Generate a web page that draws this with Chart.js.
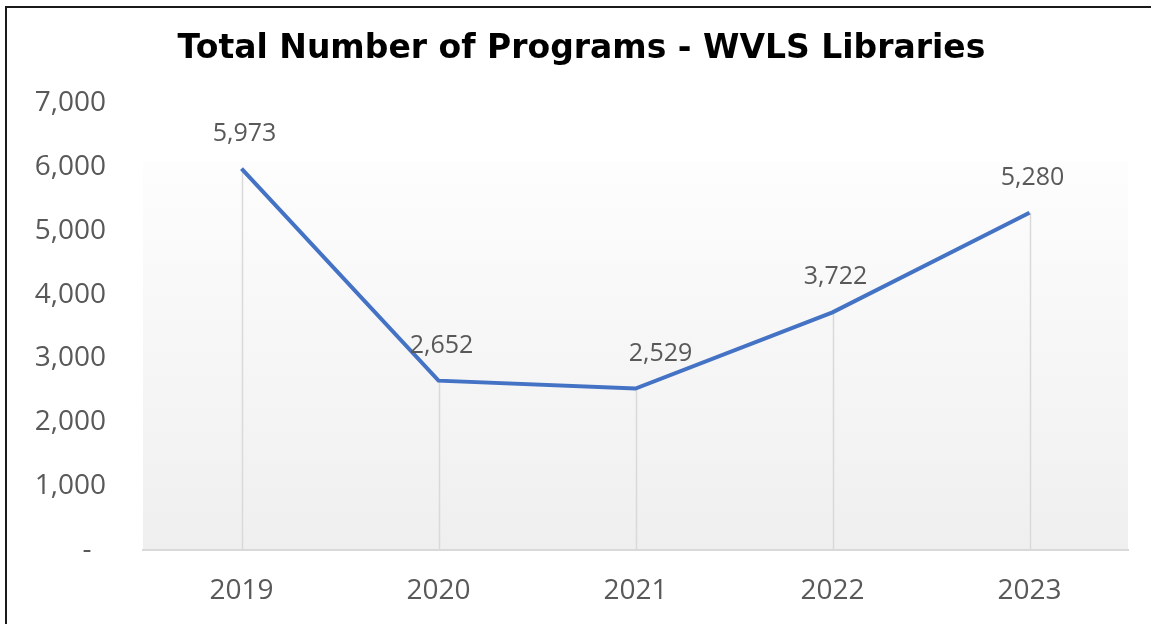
<!DOCTYPE html>
<html>
<head>
<meta charset="utf-8">
<script src="https://cdn.jsdelivr.net/npm/chart.js@4"></script>
<style>
html,body{margin:0;padding:0;background:#fff;}
#wrap{width:1151px;height:624px;position:relative;}
</style>
</head>
<body>
<div id="wrap"><canvas id="c" width="1151" height="624"></canvas></div>
<script>
const years = ['2019', '2020', '2021', '2022', '2023'];
const programs = [5973, 2652, 2529, 3722, 5280];
const yTicks = [0, 1000, 2000, 3000, 4000, 5000, 6000, 7000];
const chartTitle = 'Total Number of Programs - WVLS Libraries';

const fmt = v => v === 0 ? '-  ' : v.toLocaleString('en-US');

const decor = {
  id: 'decor',
  beforeDraw(chart) {
    const {ctx, chartArea: a} = chart;
    const top = a.top + (a.bottom - a.top) * 0.132;
    const g = ctx.createLinearGradient(0, top, 0, a.bottom);
    g.addColorStop(0, '#fdfdfd');
    g.addColorStop(1, '#efefef');
    ctx.save();
    ctx.fillStyle = g;
    ctx.fillRect(a.left, top, a.right - a.left, a.bottom - top);
    ctx.restore();
  },
  beforeDatasetsDraw(chart) {
    const {ctx, chartArea: a} = chart;
    const meta = chart.getDatasetMeta(0);
    ctx.save();
    ctx.strokeStyle = '#d9d9d9';
    ctx.lineWidth = 1.5;
    meta.data.forEach(p => {
      ctx.beginPath();
      ctx.moveTo(Math.round(p.x) + 0.5, p.y);
      ctx.lineTo(Math.round(p.x) + 0.5, a.bottom);
      ctx.stroke();
    });
    ctx.restore();
  },
  afterDatasetsDraw(chart, args, opts) {
    const {ctx} = chart;
    const meta = chart.getDatasetMeta(0);
    const data = chart.data.datasets[0].data;
    ctx.save();
    ctx.fillStyle = '#595959';
    ctx.font = '25px "Open Sans"';
    ctx.textAlign = 'center';
    ctx.textBaseline = 'middle';
    meta.data.forEach((p, i) => {
      const dx = (opts.dx && opts.dx[i]) || 0;
      ctx.fillText(fmt(data[i]), p.x + dx, p.y - 35);
    });
    ctx.restore();
  },
  afterDraw(chart, args, opts) {
    const {ctx} = chart;
    ctx.save();
    ctx.fillStyle = '#000';
    ctx.font = 'bold 33px "DejaVu Sans"';
    ctx.textAlign = 'center';
    ctx.textBaseline = 'middle';
    ctx.fillText(opts.title, 581.5, 49);
    ctx.strokeStyle = '#1a1a1a';
    ctx.lineWidth = 2;
    ctx.beginPath();
    ctx.moveTo(6, 624);
    ctx.lineTo(6, 7);
    ctx.lineTo(1151, 7);
    ctx.stroke();
    ctx.restore();
  }
};

new Chart(document.getElementById('c'), {
  type: 'line',
  data: {
    labels: years,
    datasets: [{
      data: programs,
      borderColor: '#4472C4',
      borderWidth: 4,
      pointRadius: 0,
      tension: 0,
      fill: false
    }]
  },
  options: {
    responsive: false,
    animation: false,
    devicePixelRatio: 1,
    layout: {padding: {left: 0, right: 23, top: 103, bottom: 0}},
    plugins: {
      legend: {display: false},
      tooltip: {enabled: false},
      title: {display: false},
      decor: {dx: [3, 3, 25, 3, 3], title: chartTitle}
    },
    scales: {
      x: {
        offset: true,
        grid: {display: false, drawTicks: false},
        border: {display: true, color: '#d9d9d9', width: 2},
        ticks: {color: '#595959', font: {family: '"Open Sans"', size: 28}, padding: 24, maxRotation: 0},
        afterFit(s) { s.height = 74; }
      },
      y: {
        min: 0, max: 7000,
        afterBuildTicks(s) { s.ticks = yTicks.map(v => ({value: v})); },
        grid: {display: false, drawTicks: false},
        border: {display: false},
        ticks: {color: '#595959', font: {family: '"Open Sans"', size: 28}, padding: 37, callback: v => fmt(v)},
        afterFit(s) { s.width = 143; }
      }
    }
  },
  plugins: [decor]
});
</script>
</body>
</html>
